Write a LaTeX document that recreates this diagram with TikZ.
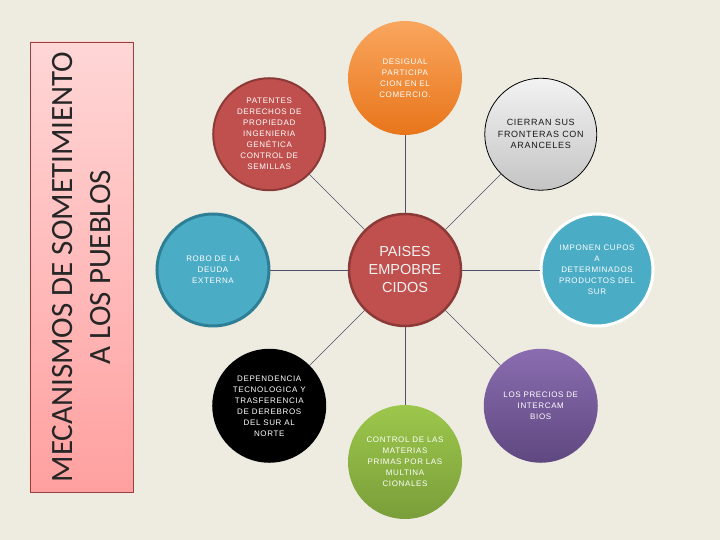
\documentclass[tikz,border=0pt]{standalone}
\usepackage{fontspec}
\setmainfont{Liberation Sans}
\newfontfamily\titlefont{Carlito}
\newfontfamily\circfont[LetterSpace=8]{Liberation Sans}
\definecolor{fondo}{HTML}{EEECE1}
\definecolor{rojo}{HTML}{C0504D}
\definecolor{rojoborde}{HTML}{8C3A37}
\definecolor{azul}{HTML}{4BACC6}
\definecolor{azulborde}{HTML}{2E7F95}
\definecolor{conector}{HTML}{50506A}
\tikzset{
  burbuja/.style = {
    circle, minimum size=112pt, inner sep=0pt, align=center,
    text=white, font=\circfont\fontsize{8}{11}\selectfont
  },
  conectorlinea/.style = {conector, line width=0.7pt}
}

\begin{document}
\begin{tikzpicture}[x=1pt,y=1pt]
  \useasboundingbox[fill=fondo] (-405,-270) rectangle (315,270);
  \node[rectangle, draw=rojo!80!black, line width=0.6pt, minimum width=103pt, minimum height=450pt,
    top color={rgb,255:red,255;green,214;blue,214}, bottom color={rgb,255:red,255;green,160;blue,160}]
    (caja) at (-323.5,3) {};
  \node[rotate=90, align=center, text={black!85}, font=\titlefont\fontsize{31}{38}\selectfont]
    (titulo) at (caja) {MECANISMOS DE SOMETIMIENTO\\A LOS PUEBLOS};

  \node[burbuja, fill=rojo, draw=rojoborde, line width=2.5pt, text=white!95!black,
    font=\fontsize{14.5}{18}\selectfont] (centro) at (0,0) {PAISES\\EMPOBRE\\CIDOS};
  \node[burbuja, minimum size=114pt, top color={rgb,255:red,249;green,166;blue,94},
    bottom color={rgb,255:red,232;green,117;blue,26}] (comercio) at (90:192)
    {DESIGUAL\\PARTICIPA\\CION EN EL\\COMERCIO.};
  \node[burbuja, fill=rojo, draw=rojoborde, line width=2pt] (patentes) at (135:192)
    {PATENTES\\DERECHOS DE\\PROPIEDAD\\INGENIERIA\\GENÉTICA\\CONTROL DE\\SEMILLAS};
  \node[burbuja, draw=black, line width=0.8pt, top color=white!95!black, bottom color=black!23,
    text=black!90, font=\circfont\fontsize{9}{11.5}\selectfont] (fronteras) at (45:192)
    {CIERRAN SUS\\FRONTERAS CON\\ARANCELES};
  \node[burbuja, fill=azul, draw=azulborde, line width=3pt] (deuda) at (180:192)
    {ROBO DE LA\\DEUDA\\EXTERNA};
  \node[burbuja, fill=azul, draw=white, line width=3pt] (cupos) at (0:192)
    {IMPONEN CUPOS\\A\\DETERMINADOS\\PRODUCTOS DEL\\SUR};
  \node[burbuja, minimum size=114pt, fill=black] (dependencia) at (225:192)
    {DEPENDENCIA\\TECNOLOGICA Y\\TRASFERENCIA\\DE DEREBROS\\DEL SUR AL\\NORTE};
  \node[burbuja, minimum size=114pt, top color={rgb,255:red,138;green,109;blue,176},
    bottom color={rgb,255:red,95;green,72;blue,128}] (precios) at (315:192)
    {LOS PRECIOS DE\\INTERCAM\\BIOS};
  \node[burbuja, minimum size=114pt, top color={rgb,255:red,156;green,199;blue,75},
    bottom color={rgb,255:red,122;green,158;blue,58}] (materias) at (270:192)
    {CONTROL DE LAS\\MATERIAS\\PRIMAS POR LAS\\MULTINA\\CIONALES};

  \foreach \n in {comercio,patentes,fronteras,deuda,cupos,dependencia,precios,materias}
    \draw[conectorlinea] (centro) -- (\n);
\end{tikzpicture}
\end{document}
